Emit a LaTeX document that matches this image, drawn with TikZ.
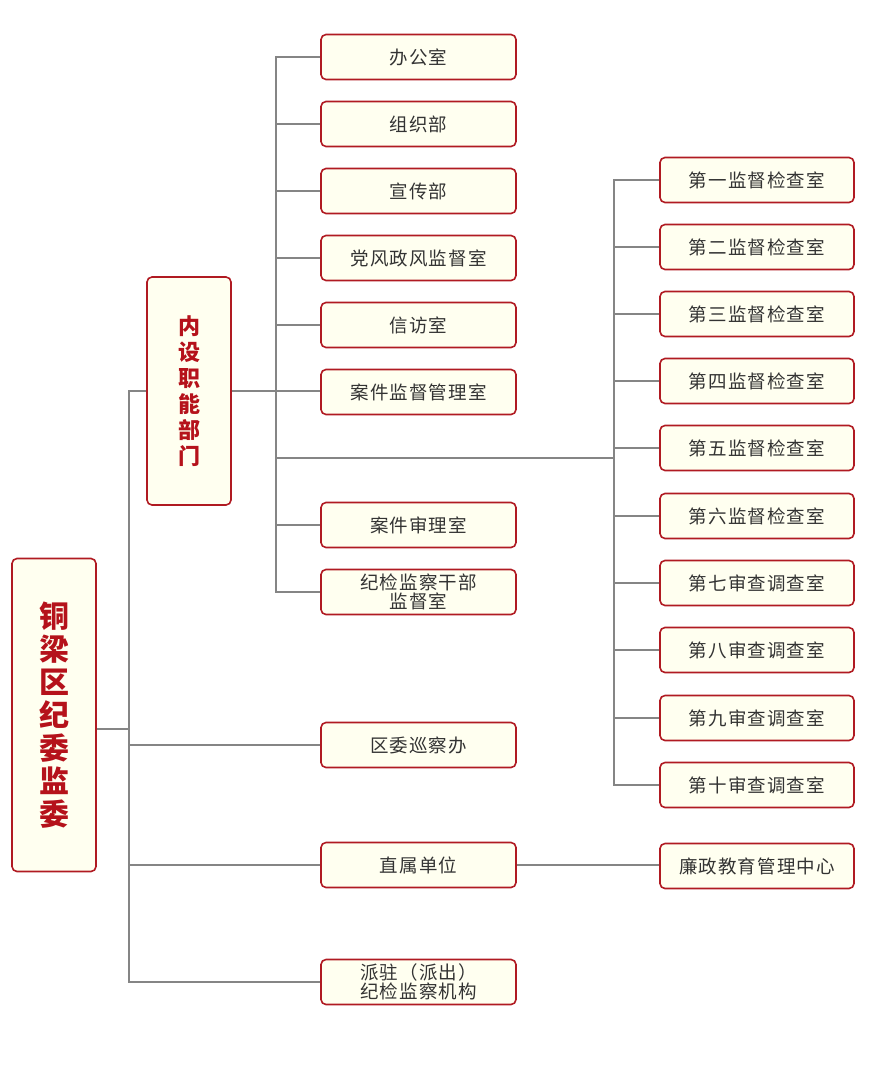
\documentclass[tikz,border=0pt]{standalone}
\usepackage{fontspec}
\newfontfamily\cjk{Noto Sans CJK SC}
\newfontfamily\cjkbox[LetterSpace=6]{Noto Sans CJK SC}
\definecolor{boxred}{HTML}{B01A22}
\definecolor{boxfill}{HTML}{FFFFF0}
\definecolor{wiregray}{HTML}{858585}
\definecolor{txtgray}{HTML}{333333}
\definecolor{titlered}{HTML}{B5121B}

\begin{document}
\begin{tikzpicture}[x=1pt, y=-1pt,
    box/.style={rectangle, draw=boxred, fill=boxfill, line width=1.6pt, rounded corners=5pt,
        minimum width=195pt, minimum height=45pt, inner sep=0pt, align=center,
        text=txtgray, font=\cjkbox\fontsize{18.5}{19.5}\selectfont},
    tallbox/.style={box, minimum width=84pt, text=titlered},
    wire/.style={draw=wiregray, line width=2pt}]
    \useasboundingbox (0,0) rectangle (876,1071);

    % left part
    \node[tallbox, minimum height=313pt, font=\cjk\bfseries\fontsize{30}{33}\selectfont] (root) at (54,715) {铜\\梁\\区\\纪\\委\\监\\委};
    \node[tallbox, minimum height=228pt, font=\cjk\bfseries\fontsize{22}{26}\selectfont] (inner) at (189,391) {内\\设\\职\\能\\部\\门};

    % inner departments
    \node[box] (bgs) at (418.5,57) {办公室};
    \node[box] (zzb) at (418.5,124) {组织部};
    \node[box] (xcb) at (418.5,191) {宣传部};
    \node[box] (dfzf) at (418.5,258) {党风政风监督室};
    \node[box] (xfs) at (418.5,325) {信访室};
    \node[box] (ajjd) at (418.5,392) {案件监督管理室};
    \node[box] (ajsl) at (418.5,525) {案件审理室};
    \node[box] (gbjd) at (418.5,592) {纪检监察干部\\监督室};
    \node[box] (xcbg) at (418.5,745) {区委巡察办};
    \node[box] (zsdw) at (418.5,865) {直属单位};
    \node[box] (pzjg) at (418.5,982) {派驻（派出）\\纪检监察机构};

    % supervision offices
    \foreach \i/\y/\t in {1/180/第一监督检查室, 2/247/第二监督检查室, 3/314/第三监督检查室, 4/381/第四监督检查室,
        5/448/第五监督检查室, 6/516/第六监督检查室, 7/583/第七审查调查室, 8/650/第八审查调查室,
        9/718/第九审查调查室, 10/785/第十审查调查室}
        \node[box, minimum width=194pt] (jc\i) at (757,\y) {\t};
    \node[box, minimum width=194pt] (lzjy) at (757,866) {廉政教育管理中心};

    % connectors
    \draw[wire] ([yshift=-14pt]root.east) -- ++(33,0);
    \draw[wire] (inner.west) -| (pzjg.west -| 129,0) -- (pzjg.west);
    \draw[wire] (xcbg.west) -- (xcbg.west -| 129,0);
    \draw[wire] (zsdw.west) -- (zsdw.west -| 129,0);

    \draw[wire] (bgs.west) -| ([xshift=-44pt]gbjd.west) -- (gbjd.west);
    \foreach \n in {zzb, xcb, dfzf, xfs, ajsl}
        \draw[wire] (\n.west) -- ++(-44,0);
    \draw[wire] (inner.east) -- (inner.east -| ajjd.west);
    \coordinate (mid) at (277,458);
    \draw[wire] (mid) -- ([xshift=-45pt]jc1.west |- mid);

    \draw[wire] (jc1.west) -| ([xshift=-45pt]jc10.west) -- (jc10.west);
    \foreach \i in {2,...,9}
        \draw[wire] (jc\i.west) -- ++(-45,0);
    \draw[wire] (zsdw.east) -- (zsdw.east -| lzjy.west);
\end{tikzpicture}
\end{document}
